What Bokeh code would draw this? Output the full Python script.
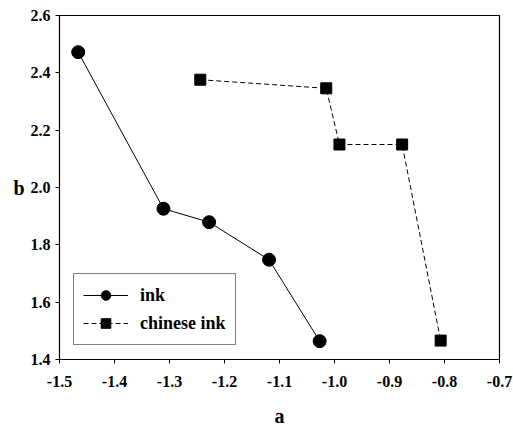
from bokeh.plotting import figure
from bokeh.models import Range1d, FixedTicker, Legend, LegendItem
from bokeh.embed import file_html
from bokeh.resources import INLINE

ink_a = [-1.466, -1.311, -1.228, -1.119, -1.027]
ink_b = [2.472, 1.926, 1.879, 1.748, 1.464]
cink_a = [-1.244, -1.015, -0.991, -0.877, -0.807]
cink_b = [2.376, 2.346, 2.150, 2.150, 1.466]
x_ticks = [-1.5, -1.4, -1.3, -1.2, -1.1, -1.0, -0.9, -0.8, -0.7]
y_ticks = [1.4, 1.6, 1.8, 2.0, 2.2, 2.4, 2.6]

FONT = "Liberation Serif"

p = figure(width=513, height=430, output_backend="svg", toolbar_location=None,
           x_range=Range1d(-1.5, -0.7), y_range=Range1d(1.4, 2.6),
           min_border_left=59, min_border_right=14, min_border_top=15, min_border_bottom=71)
p.background_fill_color = "white"
p.border_fill_color = "white"
p.outline_line_color = "black"
p.outline_line_width = 1.2
p.grid.visible = False

for ax in (p.xaxis[0], p.yaxis[0]):
    ax.major_label_text_font = FONT
    ax.major_label_text_font_style = "bold"
    ax.major_label_text_font_size = "16px"
    ax.major_label_text_color = "black"
    ax.axis_label_text_font = FONT
    ax.axis_label_text_font_style = "bold"
    ax.axis_label_text_font_size = "20px"
    ax.axis_label_text_color = "black"
    ax.minor_tick_line_color = None
    ax.major_tick_in = 0
    ax.major_tick_out = 4
    ax.axis_line_color = "black"
    ax.major_tick_line_color = "black"

p.xaxis[0].ticker = FixedTicker(ticks=x_ticks)
p.yaxis[0].ticker = FixedTicker(ticks=y_ticks)
p.xaxis[0].major_label_overrides = {v: f"{v:.1f}" for v in x_ticks}
p.yaxis[0].major_label_overrides = {v: f"{v:.1f}" for v in y_ticks}
p.xaxis[0].axis_label = "a"
p.yaxis[0].axis_label = "b"
p.xaxis[0].axis_label_standoff = 15
p.xaxis[0].major_label_standoff = 12
p.yaxis[0].major_label_standoff = 5
p.yaxis[0].axis_label_standoff = 3
p.yaxis[0].major_label_orientation = "horizontal"
p.yaxis[0].axis_label_orientation = "horizontal"

l1 = p.line(ink_a, ink_b, line_color="black", line_width=1)
s1 = p.scatter(ink_a, ink_b, marker="circle", size=13, fill_color="black", line_color="black")
l2 = p.line(cink_a, cink_b, line_color="black", line_width=1, line_dash="5 3")
s2 = p.scatter(cink_a, cink_b, marker="square", size=11, fill_color="black", line_color="black")

legend = Legend(items=[LegendItem(label="ink", renderers=[l1, s1]),
                       LegendItem(label="chinese ink", renderers=[l2, s2])],
                location="bottom_left")
legend.label_text_font = FONT
legend.label_text_font_style = "bold"
legend.label_text_font_size = "18px"
legend.label_text_color = "black"
legend.border_line_color = "black"
legend.border_line_width = 1
legend.glyph_width = 45
legend.glyph_height = 24
legend.label_standoff = 12
legend.padding = 9
legend.spacing = 4
legend.margin = 14
legend.background_fill_alpha = 1
p.add_layout(legend)

open("out.html", "w").write(file_html(p, INLINE))
